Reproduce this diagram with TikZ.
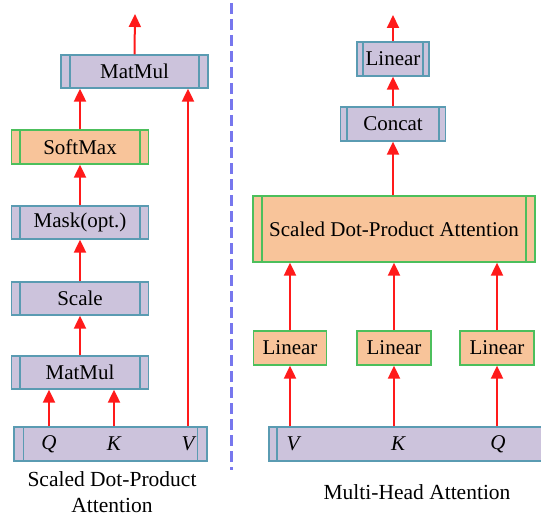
\documentclass[tikz,border=0pt]{standalone}
\usepackage{fontspec}
\setmainfont{Liberation Serif}
\usetikzlibrary{arrows.meta}
\definecolor{lav}{HTML}{CCC3DC}
\definecolor{tealb}{HTML}{5A9BB2}
\definecolor{orf}{HTML}{F8C49A}
\definecolor{grb}{HTML}{4CBF5C}
\definecolor{arrred}{HTML}{FF1A1A}
\definecolor{dashb}{HTML}{7777EE}
\tikzset{
  sidebars/.style 2 args={path picture={
    \draw[line width=1.2bp,draw=#2]
      ([xshift=#1]path picture bounding box.north west) -- ([xshift=#1]path picture bounding box.south west)
      ([xshift=-#1]path picture bounding box.north east) -- ([xshift=-#1]path picture bounding box.south east);}},
  pbox/.style={rectangle, fill=lav, draw=tealb, line width=1.3bp, inner sep=0pt,
    minimum height=33bp, font=\fontsize{21bp}{25bp}\selectfont},
  obox/.style={rectangle, fill=orf, draw=grb, line width=1.3bp, inner sep=0pt,
    minimum height=34bp, font=\fontsize{21bp}{25bp}\selectfont},
  lbl/.style={inner sep=0pt, font=\fontsize{21bp}{25bp}\selectfont\itshape},
  arr/.style={color=arrred, line width=2bp, -{Triangle[width=12bp,length=13bp]}},
  captext/.style={inner sep=0pt, align=center, font=\fontsize{21.5bp}{26bp}\selectfont}
}
\begin{document}
\begin{tikzpicture}[x=1bp,y=-1bp]
\useasboundingbox (0,0) rectangle (541,520);
% left
\node[pbox, minimum width=147bp, sidebars={9bp}{tealb}] (mm2) at (134.5,71.5) {MatMul};
\node[obox, minimum width=137bp, sidebars={8.5bp}{grb}] (sm) at (80,147) {SoftMax};
\node[pbox, minimum width=137bp, sidebars={8.5bp}{tealb}] (mask) at (80,222.5) {Mask(opt.)};
\node[pbox, minimum width=137bp, sidebars={8.5bp}{tealb}] (scale) at (80,298.5) {Scale};
\node[pbox, minimum width=137bp, sidebars={8.5bp}{tealb}] (mm1) at (80,372.5) {MatMul};
\node[pbox, minimum width=193bp, minimum height=34bp, sidebars={9.5bp}{tealb}] (inL) at (110.5,444) {};
\node[lbl] (Q1) at (49,444) {Q};
\node[lbl] (K1) at (114,444) {K};
\node[lbl] (V1) at (188,444) {V};
\coordinate (outL) at (135,14);
\draw[arr] (Q1 |- inL.north) -- (Q1 |- mm1.south);
\draw[arr] (K1 |- inL.north) -- (K1 |- mm1.south);
\draw[arr] (V1 |- inL.north) -- (V1 |- mm2.south);
\draw[arr] (mm1.north) -- (scale.south);
\draw[arr] (scale.north) -- (mask.south);
\draw[arr] (mask.north) -- (sm.south);
\draw[arr] (sm.north) -- (sm |- mm2.south);
\draw[arr] (mm2.north) -- (outL);
\node[captext] (capL) at (112,492) {Scaled Dot-Product\\Attention};
% divider
\coordinate (dtop) at (231.5,3);
\coordinate (dbot) at (231.5,470);
\draw[dashb, line width=2.2bp, dash pattern=on 11bp off 5bp] (dtop) -- (dbot);
% right
\node[pbox, minimum width=72bp, minimum height=34bp, sidebars={6bp}{tealb}] (lin4) at (393,59) {Linear};
\node[pbox, minimum width=105bp, minimum height=34bp, sidebars={6.5bp}{tealb}] (concat) at (393,124) {Concat};
\node[obox, minimum width=282bp, minimum height=66bp, sidebars={9bp}{grb}] (sdpa) at (394,229) {Scaled Dot-Product Attention};
\node[obox, minimum width=73bp] (lin1) at (290,348) {Linear};
\node[obox, minimum width=74bp] (lin2) at (394,348) {Linear};
\node[obox, minimum width=74bp] (lin3) at (497,348) {Linear};
\node[pbox, minimum width=290bp, minimum height=34bp, sidebars={8bp}{tealb}] (inR) at (414,444) {};
\node[lbl] (V2) at (293,444) {V};
\node[lbl] (K2) at (398,444) {K};
\node[lbl] (Q2) at (498,444) {Q};
\coordinate (outR) at (393,15);
\draw[arr] (lin1 |- inR.north) -- (lin1.south);
\draw[arr] (lin2 |- inR.north) -- (lin2.south);
\draw[arr] (lin3 |- inR.north) -- (lin3.south);
\draw[arr] (lin1.north) -- (lin1 |- sdpa.south);
\draw[arr] (lin2.north) -- (lin2 |- sdpa.south);
\draw[arr] (lin3.north) -- (lin3 |- sdpa.south);
\draw[arr] (sdpa.north -| concat) -- (concat.south);
\draw[arr] (concat.north) -- (lin4.south);
\draw[arr] (lin4.north) -- (outR);
\node[captext] (capR) at (417,492) {Multi-Head Attention};
\end{tikzpicture}
\end{document}
